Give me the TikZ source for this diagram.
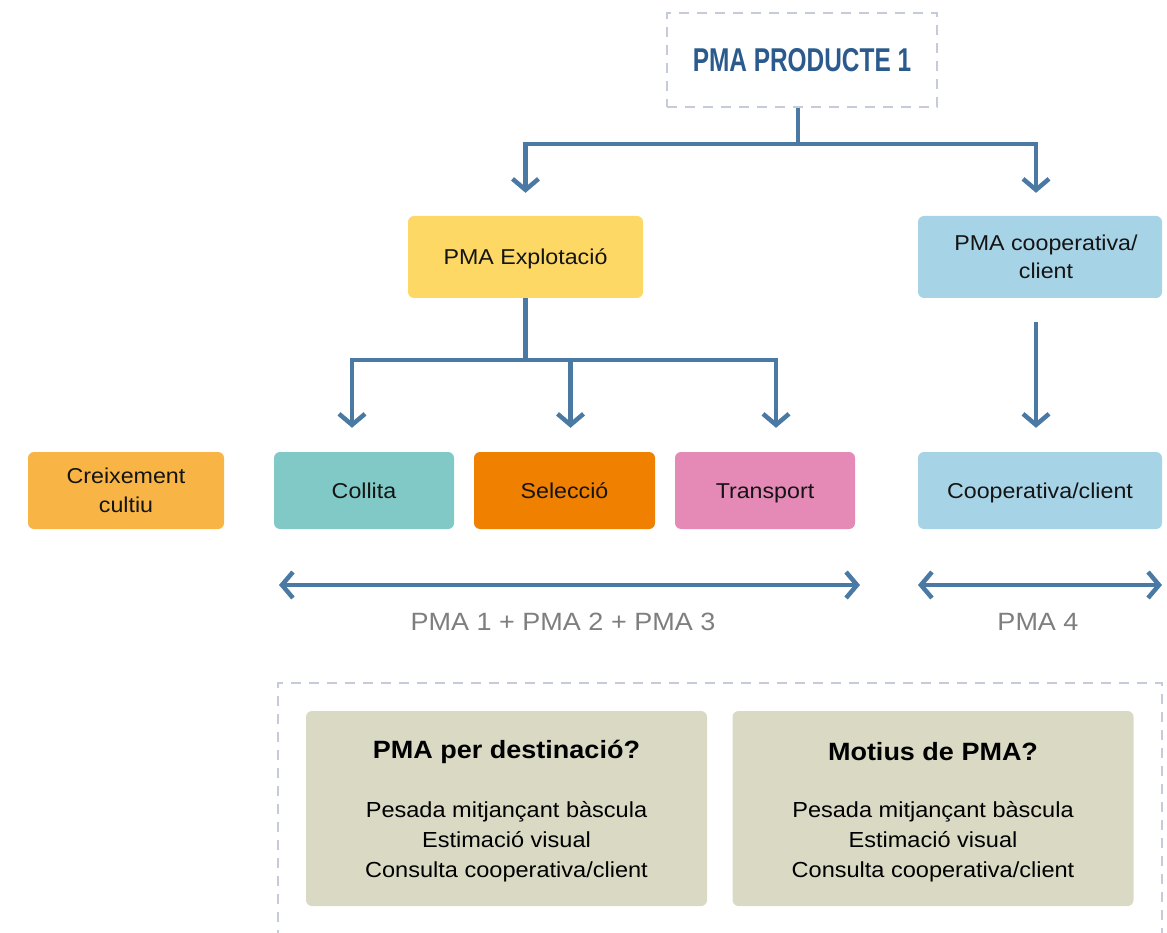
\documentclass[tikz,border=0pt]{standalone}
\usepackage{fontspec}
\setmainfont{Liberation Sans}[FakeStretch=1.08]
\newfontfamily\narrowbold{Liberation Sans}[FakeStretch=0.74]
\usetikzlibrary{arrows.meta}

\definecolor{pmablue}{HTML}{4A79A3}
\definecolor{titleblue}{HTML}{2B5B8C}
\definecolor{dashgray}{HTML}{C6CBDA}
\definecolor{labelgray}{HTML}{7E7E7E}
\definecolor{yellowbox}{HTML}{FDD865}
\definecolor{lightblue}{HTML}{A7D3E6}
\definecolor{orangebox}{HTML}{F9B446}
\definecolor{tealbox}{HTML}{80C9C6}
\definecolor{darkorange}{HTML}{F08000}
\definecolor{pinkbox}{HTML}{E58AB7}
\definecolor{olivebox}{HTML}{DAD9C4}

\tikzset{
    box/.style={rounded corners=6pt, inner sep=0pt, align=center,
        font=\fontsize{21.5}{28.5}\selectfont, text=black!92},
    oneline/.style={text height=20pt, text depth=4pt},
    frame/.style={draw=dashgray, line width=1.6pt, dash pattern=on 10pt off 8pt},
    link/.style={draw=pmablue, line width=4.5pt},
    flow/.style={link, ->, >={Straight Barb[length=11pt,width=26pt]}},
    span/.style={link, <->, >={Straight Barb[length=11pt,width=26pt]}},
    infobox/.style={rounded corners=6pt, fill=olivebox, minimum width=401pt, minimum height=195pt},
}

\begin{document}
\begin{tikzpicture}[x=1pt, y=-1pt]
    \useasboundingbox (0, 0) rectangle (1167, 933);
    % top
    \node[frame, minimum width=270pt, minimum height=94pt, text=titleblue,
        font=\narrowbold\bfseries\fontsize{33}{36}\selectfont] (title) at (802, 60) {PMA PRODUCTE 1};
    \node[box, oneline, fill=yellowbox, minimum width=235pt, minimum height=82pt] (explot) at (525.5, 257) {PMA Explotació};
    \node[box, fill=lightblue, minimum width=244pt, minimum height=82pt] (coopc) at (1040, 257)
        {\hspace*{12pt}PMA cooperativa/\\\hspace*{12pt}client};
    % row of stages
    \node[box, fill=orangebox, minimum width=196pt, minimum height=77pt] (creix) at (126, 490.5) {Creixement\\cultiu};
    \node[box, oneline, fill=tealbox, minimum width=180pt, minimum height=77pt] (collita) at (364, 490.5) {Collita};
    \node[box, oneline, fill=darkorange, minimum width=181pt, minimum height=77pt] (selec) at (564.5, 490.5) {Selecció};
    \node[box, oneline, fill=pinkbox, minimum width=180pt, minimum height=77pt] (transp) at (765, 490.5) {Transport};
    \node[box, oneline, fill=lightblue, minimum width=244pt, minimum height=77pt] (coopf) at (1040, 490.5) {Cooperativa/client};

    % tree connectors
    \draw[link] ([xshift=-4pt]title.south) -- ++(0, 36) coordinate (split1);
    \draw[flow, shorten >=23pt] (split1) -| (explot.north);
    \draw[flow, shorten >=23pt] (split1) -| ([xshift=-4pt]coopc.north);
    \draw[link] (explot.south) -- ++(0, 62) coordinate (split2);
    \draw[flow, shorten >=24pt] (split2) -| ([xshift=-12pt]collita.north);
    \draw[flow, shorten >=24pt] (split2) -| ([xshift=6pt]selec.north);
    \draw[flow, shorten >=24pt] (split2) -| ([xshift=11pt]transp.north);
    \draw[flow, shorten <=24pt, shorten >=24pt] ([xshift=-4pt]coopc.south) -- ([xshift=-4pt]coopf.north);

    % spans
    \coordinate (spanA) at (279, 585);
    \coordinate (spanB) at (860, 585);
    \coordinate (spanC) at (918, 585);
    \coordinate (spanD) at (1162, 585);
    \draw[span] (spanA) -- (spanB);
    \draw[span] (spanC) -- (spanD);
    \node[text=labelgray, font=\fontsize{25}{28}\selectfont] (sum) at (563, 622) {PMA 1 + PMA 2 + PMA 3};
    \node[text=labelgray, font=\fontsize{25}{28}\selectfont] (pma4) at (1038, 622) {PMA 4};

    % bottom panel
    \draw[frame] (278, 940) |- (1162, 683) -- (1162, 940);
    \node[infobox] (dest) at (506.5, 808.5) {};
    \node[infobox] (motiu) at (933, 808.5) {};
    \node[font=\bfseries\fontsize{25}{30}\selectfont] (desthead) at (dest.center |- 0, 752) {PMA per destinació?};
    \node[font=\bfseries\fontsize{25}{30}\selectfont] (motiuhead) at (motiu.center |- 0, 752) {Motius de PMA?};
    \node[align=center, font=\fontsize{21.8}{30}\selectfont] (destlist) at (dest.center |- 0, 842)
        {Pesada mitjançant bàscula\\Estimació visual\\Consulta cooperativa/client};
    \node[align=center, font=\fontsize{21.8}{30}\selectfont] (motiulist) at (motiu.center |- 0, 842)
        {Pesada mitjançant bàscula\\Estimació visual\\Consulta cooperativa/client};
\end{tikzpicture}
\end{document}
